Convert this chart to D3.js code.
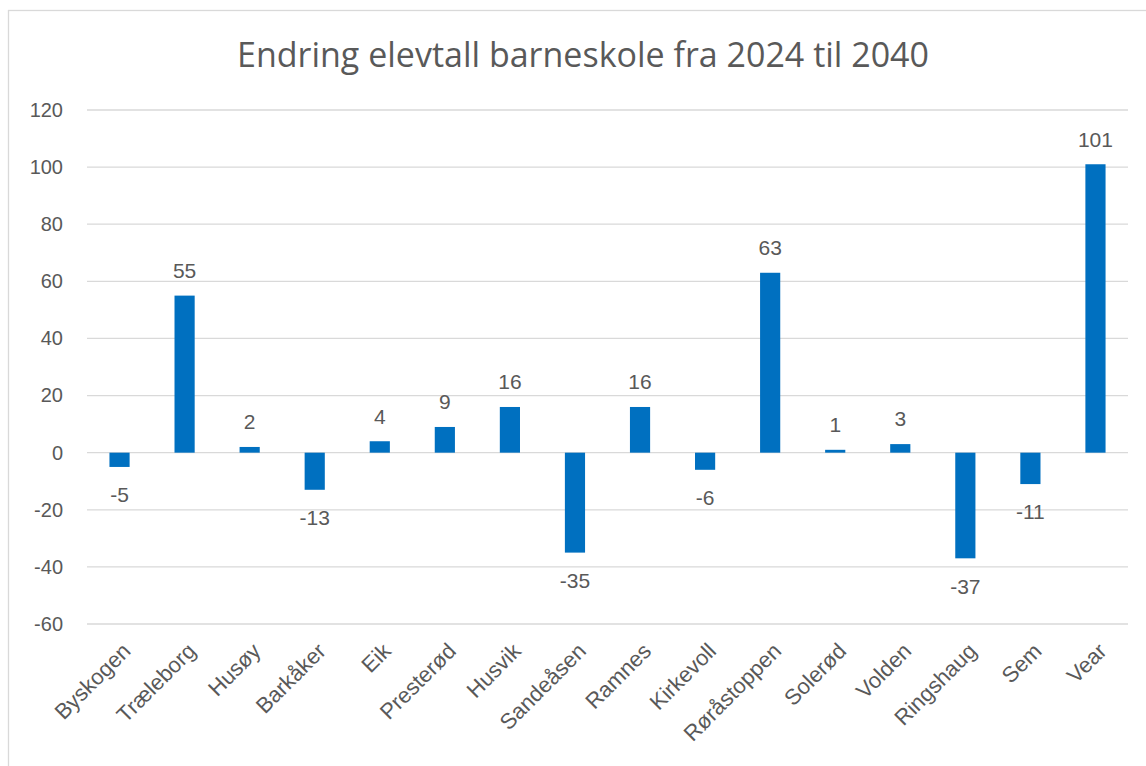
<!DOCTYPE html>
<html>
<head>
<meta charset="utf-8">
<script src="https://cdn.jsdelivr.net/npm/d3@7"></script>
<style>
  body { margin: 0; background: #fff; }
  text { font-family: "Liberation Sans", Arial, sans-serif; fill: #595959; }
</style>
</head>
<body>
<div id="chart"></div>
<script>
// data
const schools = ["Byskogen", "Træleborg", "Husøy", "Barkåker", "Eik", "Presterød", "Husvik", "Sandeåsen",
  "Ramnes", "Kirkevoll", "Røråstoppen", "Solerød", "Volden", "Ringshaug", "Sem", "Vear"];
const change = [-5, 55, 2, -13, 4, 9, 16, -35, 16, -6, 63, 1, 3, -37, -11, 101];
const yTicks = [-60, -40, -20, 0, 20, 40, 60, 80, 100, 120];
const title = "Endring elevtall barneskole fra 2024 til 2040";

const w = 1146, h = 766;
const plotLeft = 87, plotRight = 1128, plotTop = 110, plotBottom = 624;
const labelFont = "\"Liberation Sans\", Arial, sans-serif";

const svg = d3.select("#chart").append("svg")
  .attr("width", w).attr("height", h);

// chart border
svg.append("rect")
  .attr("x", 8.5).attr("y", 10.5)
  .attr("width", w + 10).attr("height", h + 10)
  .attr("fill", "none").attr("stroke", "#d9d9d9").attr("stroke-width", 1.3);

const x = d3.scaleBand().domain(schools).range([plotLeft, plotRight]).paddingInner(0.69).paddingOuter(0.345);
const y = d3.scaleLinear().domain([-60, 120]).range([plotBottom, plotTop]);

svg.append("text")
  .attr("x", 583).attr("y", 67)
  .attr("text-anchor", "middle")
  .style("font-family", "\"Open Sans\", \"Noto Sans\", sans-serif")
  .style("font-size", "34px")
  .text(title);

// gridlines
svg.append("g").selectAll("line")
  .data(yTicks).enter().append("line")
  .attr("x1", plotLeft).attr("x2", plotRight)
  .attr("y1", d => y(d)).attr("y2", d => y(d))
  .attr("stroke", "#d9d9d9").attr("stroke-width", 1.3);

// y axis labels
const yAxis = d3.axisLeft(y).tickValues(yTicks).tickSize(0).tickPadding(24).tickFormat(d => String(d));
const gy = svg.append("g").attr("transform", `translate(${plotLeft},0)`).call(yAxis);
gy.select(".domain").remove();
gy.selectAll("text").style("font-size", "20px").attr("fill", "#595959")
  .style("font-family", labelFont);

// bars
svg.append("g").selectAll("rect")
  .data(change).enter().append("rect")
  .attr("x", (d, i) => x(schools[i]))
  .attr("width", x.bandwidth())
  .attr("y", d => y(Math.max(0, d)))
  .attr("height", d => Math.abs(y(d) - y(0)))
  .attr("fill", "#0070c0");

// value labels
svg.append("g").selectAll("text")
  .data(change).enter().append("text")
  .attr("x", (d, i) => x(schools[i]) + x.bandwidth() / 2)
  .attr("y", d => d >= 0 ? y(d) - 25 : y(d) + 28)
  .attr("dy", "0.35em")
  .attr("text-anchor", "middle")
  .style("font-size", "21px")
  .text(d => d);

// x labels, rotated
const xAxis = d3.axisBottom(x).tickSize(0).tickPadding(0);
const gx = svg.append("g").attr("transform", `translate(0,${plotBottom + 23})`).call(xAxis);
gx.select(".domain").remove();
gx.selectAll("text")
  .style("font-size", "22px").attr("fill", "#595959")
  .style("font-family", labelFont)
  .attr("text-anchor", "end")
  .attr("dy", "0.35em")
  .attr("transform", "translate(7,0) rotate(-45)");
</script>
</body>
</html>
